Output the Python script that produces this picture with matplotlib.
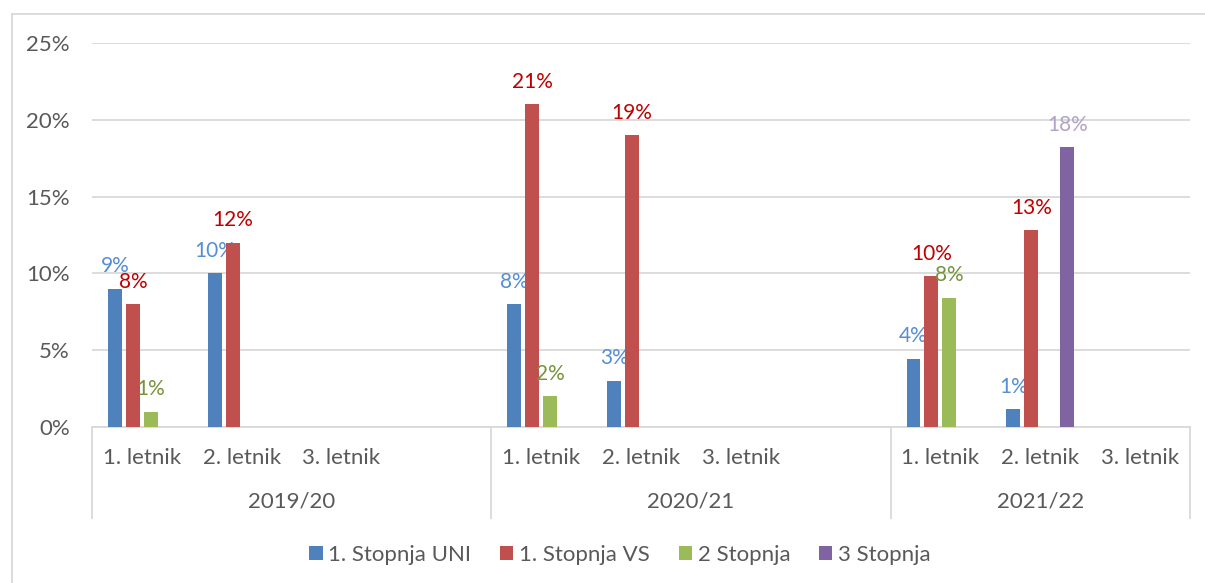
import matplotlib
matplotlib.use("Agg")
import matplotlib.pyplot as plt
from matplotlib.lines import Line2D
from matplotlib.transforms import blended_transform_factory

plt.rcParams['font.family'] = ['Lato', 'DejaVu Sans']

# ---- data ----
groups = ["2019/20", "2020/21", "2021/22"]
group_sizes = [4, 4, 3]          # number of category slots per group
categories = ["1. letnik", "2. letnik", "3. letnik", "",
              "1. letnik", "2. letnik", "3. letnik", "",
              "1. letnik", "2. letnik", "3. letnik"]
series_names = ["1. Stopnja UNI", "1. Stopnja VS", "2 Stopnja", "3 Stopnja"]
uni = [0.09, 0.10, None, None, 0.08, 0.03, None, None, 0.0445, 0.0115, None]
vs = [0.08, 0.12, None, None, 0.21, 0.19, None, None, 0.098, 0.128, None]
st2 = [0.01, None, None, None, 0.02, None, None, None, 0.084, None, None]
st3 = [None, None, None, None, None, None, None, None, None, 0.182, None]
yticks = [0, 0.05, 0.10, 0.15, 0.20, 0.25]
ytick_labels = ["0%", "5%", "10%", "15%", "20%", "25%"]

bar_colors = ["#4F81BD", "#C0504D", "#9BBB59", "#8064A2"]
label_colors = ["#558ED5", "#C00000", "#77933C", "#B3A2C7"]
text_color = "#595959"
grid_color = "#D9D9D9"

W, H = 1205, 583
fig = plt.figure(figsize=(W / 100, H / 100), dpi=100)
ax = fig.add_axes([92 / W, (H - 427) / H, (1190 - 92) / W, (427 - 43) / H])

n = len(categories)
width = 0.14
pitch = 0.18
for si, vals in enumerate([uni, vs, st2, st3]):
    off = (si - 1.5) * pitch
    xs = [i + off for i, v in enumerate(vals) if v is not None]
    ys = [v for v in vals if v is not None]
    ax.bar(xs, ys, width=width, color=bar_colors[si], zorder=3,
           label=series_names[si])
    for x, y in zip(xs, ys):
        ax.annotate(f"{round(y * 100):.0f}%", (x, y), xytext=(0, 9),
                    textcoords="offset points", ha="center", va="bottom",
                    color=label_colors[si], fontsize=15)

ax.set_xlim(-0.5, n - 0.5)
ax.set_ylim(0, 0.25)
ax.set_yticks(yticks)
ax.set_yticklabels(ytick_labels)
ax.tick_params(axis="y", length=0, pad=16, labelsize=16, labelcolor=text_color)
ax.set_xticks([])
ax.grid(axis="y", color=grid_color, linewidth=1.3, zorder=0)
for s in ["top", "right", "left"]:
    ax.spines[s].set_visible(False)
ax.spines["bottom"].set_color(grid_color)
ax.spines["bottom"].set_linewidth(1.3)

trans = blended_transform_factory(ax.transData, ax.transAxes)
# category labels
for i, c in enumerate(categories):
    ax.text(i, -0.081, c, transform=trans, ha="center", va="center",
            fontsize=16, color=text_color)
# group labels and separators
start = 0
bounds = [-0.5]
for g, sz in zip(groups, group_sizes):
    center = start + (sz - 1) / 2
    ax.text(center, -0.195, g, transform=trans, ha="center", va="center",
            fontsize=16, color=text_color)
    start += sz
    bounds.append(start - 0.5)
for b in bounds:
    ax.add_line(Line2D([b, b], [0, -0.237], transform=trans, color=grid_color,
                       linewidth=1.3, clip_on=False))

# chart border
fig.add_artist(Line2D([12 / W, 12 / W], [0, (H - 14) / H], color=grid_color,
                      linewidth=1.3, transform=fig.transFigure))
fig.add_artist(Line2D([12 / W, 1], [(H - 14) / H, (H - 14) / H], color=grid_color,
                      linewidth=1.3, transform=fig.transFigure))

# legend
handles, labels = ax.get_legend_handles_labels()
fig.legend(handles, labels, loc="center", bbox_to_anchor=(620 / W, (H - 555) / H),
           ncol=4, frameon=False, fontsize=16, labelcolor=text_color,
           handlelength=0.6, handleheight=0.6, handletextpad=0.25, columnspacing=1.3)

fig.savefig("out.png", dpi=100)
